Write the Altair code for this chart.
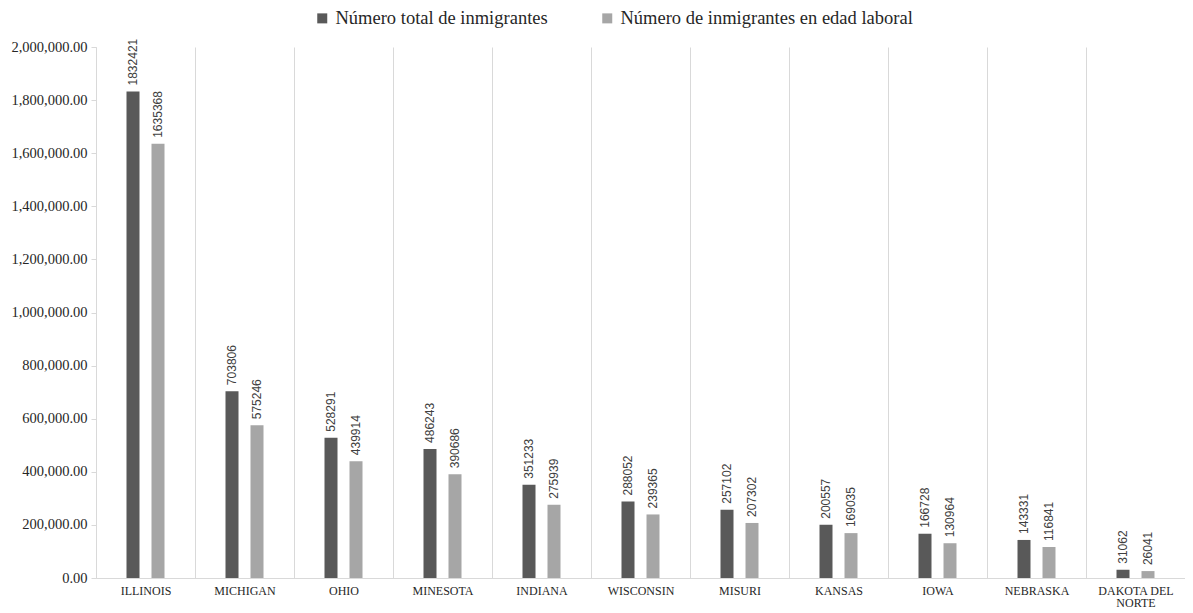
import altair as alt
import pandas as pd

states = ["ILLINOIS", "MICHIGAN", "OHIO", "MINESOTA", "INDIANA", "WISCONSIN",
          "MISURI", "KANSAS", "IOWA", "NEBRASKA", "DAKOTA DEL NORTE"]
series = ["Número total de inmigrantes", "Número de inmigrantes en edad laboral"]
total = [1832421, 703806, 528291, 486243, 351233, 288052, 257102, 200557, 166728, 143331, 31062]
working = [1635368, 575246, 439914, 390686, 275939, 239365, 207302, 169035, 130964, 116841, 26041]
y_ticks = [0, 200000, 400000, 600000, 800000, 1000000, 1200000, 1400000, 1600000, 1800000, 2000000]
colors = ["#595959", "#A6A6A6"]

SERIF = "Liberation Serif, Times New Roman, serif"
SANS = "Liberation Sans, Arial, sans-serif"

rows = []
for i, s in enumerate(states):
    rows.append({"state": s, "series": series[0], "value": total[i]})
    rows.append({"state": s, "series": series[1], "value": working[i]})
df = pd.DataFrame(rows)

base = alt.Chart(df).encode(
    x=alt.X("state:N", sort=states,
            scale=alt.Scale(paddingInner=0, paddingOuter=0),
            axis=alt.Axis(title=None, labelAngle=0, ticks=False, grid=True,
                          gridColor="#D9D9D9", gridWidth=1, domainColor="#D9D9D9",
                          tickBand="extent", labelFont=SERIF,
                          labelFontSize=12, labelColor="#262626", labelPadding=7,
                          labelLineHeight=12,
                          labelExpr="datum.label == 'DAKOTA DEL NORTE' ? ['DAKOTA DEL', 'NORTE'] : datum.label")),
    xOffset=alt.XOffset("series:N", sort=series,
                        scale=alt.Scale(paddingInner=0.48, paddingOuter=0, range=[30.5, 68.5])),
    y=alt.Y("value:Q", scale=alt.Scale(domain=[0, 2000000]),
            axis=alt.Axis(title=None, values=y_ticks, format=",.2f", grid=False,
                          domainColor="#D9D9D9", tickColor="#D9D9D9", tickSize=5,
                          labelFont=SERIF, labelFontSize=14.5,
                          labelColor="#262626", labelPadding=4)),
)

bars = base.mark_bar().encode(
    color=alt.Color("series:N", sort=series,
                    scale=alt.Scale(domain=series, range=colors),
                    legend=alt.Legend(orient="none", legendX=217, legendY=-38,
                                      direction="horizontal", title=None,
                                      symbolType="square", symbolSize=100,
                                      symbolStrokeWidth=0, padding=0,
                                      labelFont=SERIF, labelFontSize=18.5,
                                      labelOffset=4,
                                      labelColor="#262626", columnPadding=50,
                                      labelLimit=400))
)

labels = base.mark_text(angle=270, align="left", baseline="middle", dx=6,
                        font=SANS, fontSize=12, color="#404040").encode(
    text=alt.Text("value:Q", format="d")
)

chart = alt.layer(bars, labels).properties(
    width=1089, height=531,
    autosize=alt.AutoSizeParams(type="none"),
    padding={"left": 88, "top": 39, "right": 0, "bottom": 30},
).configure_view(stroke=None)

chart.save("out.html", embed_options={"renderer": "svg", "actions": False})
